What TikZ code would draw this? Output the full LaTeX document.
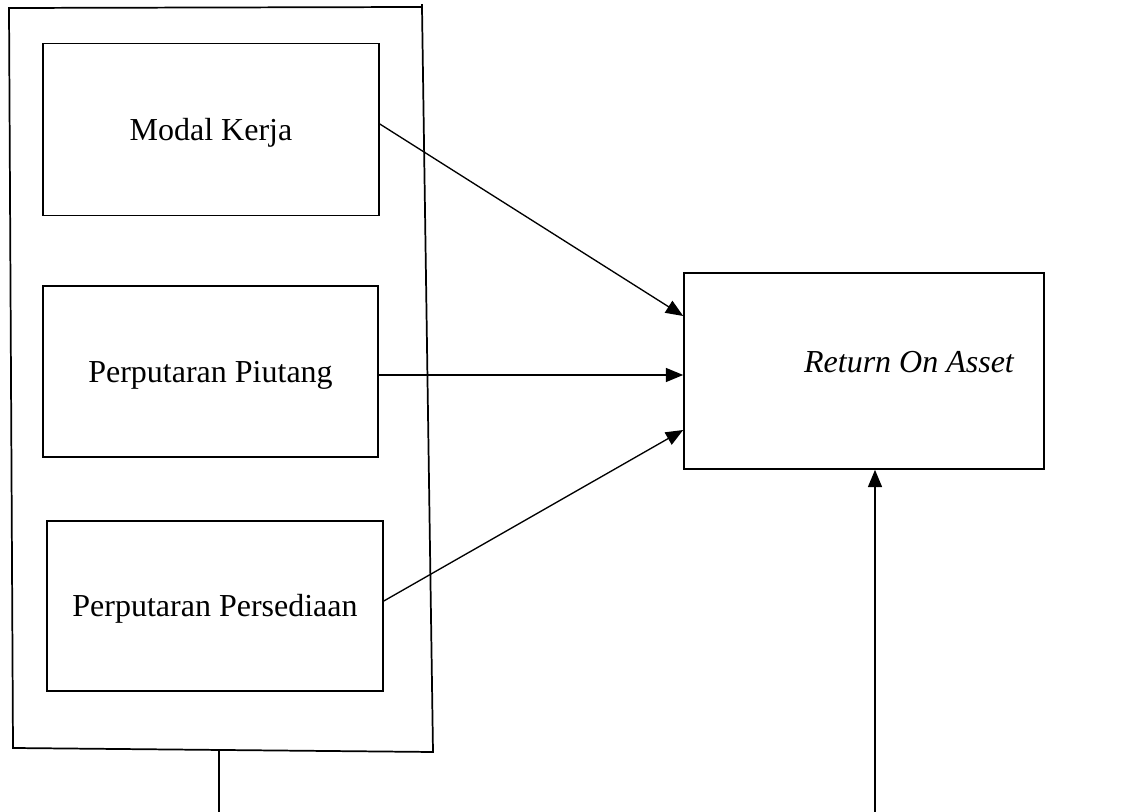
\documentclass[tikz,border=0pt]{standalone}
\usepackage{fontspec}
\setmainfont{Liberation Serif}
\usetikzlibrary{arrows.meta}
\begin{document}
\begin{tikzpicture}[x=0.75pt,y=-0.75pt,
  box/.style={draw,line width=1.2pt,inner sep=0pt,font=\fontsize{24}{28}\selectfont},
  lbl/.style={inner sep=0pt,font=\fontsize{24}{28}\selectfont},
  conn/.style={line width=1pt,-{Triangle[length=13pt,width=10.5pt]}},
  plain/.style={line width=1.2pt}]
\useasboundingbox (0,0) rectangle (1129,812);
% outer container
\draw[line width=1.3pt] (9,8) coordinate (c1) -- (422,7) coordinate (c2) -- (433,752) coordinate (c3) -- (13,748) coordinate (c4) -- cycle;
\draw[line width=1.3pt] (422,7) -- (422,4);
\node[box,minimum width=336*0.75pt,minimum height=172*0.75pt] (mk) at (211,129.5) {};
\node[lbl] (mkt) at (211,133) {Modal Kerja};
\node[box,minimum width=335*0.75pt,minimum height=171*0.75pt] (pp) at (210.5,371.5) {};
\node[lbl] (ppt) at (210.5,375.5) {Perputaran Piutang};
\node[box,minimum width=336*0.75pt,minimum height=170*0.75pt] (ps) at (215,606) {};
\node[lbl] (pst) at (215,609) {Perputaran Persediaan};
\node[box,minimum width=360*0.75pt,minimum height=196*0.75pt] (roa) at (864,371) {};
\node[lbl] (roat) at (909,362) {\itshape Return On Asset};
\coordinate (b1) at (219,750);
\coordinate (b1e) at (219,812);
\coordinate (b2e) at (875,812);
\draw[conn] (mk.east |- 0,124) -- (roa.west |- 0,316);
\draw[conn] (pp.east |- 0,375) -- (roa.west |- 0,375);
\draw[conn] (ps.east |- 0,601) -- (roa.west |- 0,430);
\draw[plain] (b1) -- (b1e);
\draw[conn,line width=1.2pt] (b2e) -- (roa.south -| b2e);
\end{tikzpicture}
\end{document}
